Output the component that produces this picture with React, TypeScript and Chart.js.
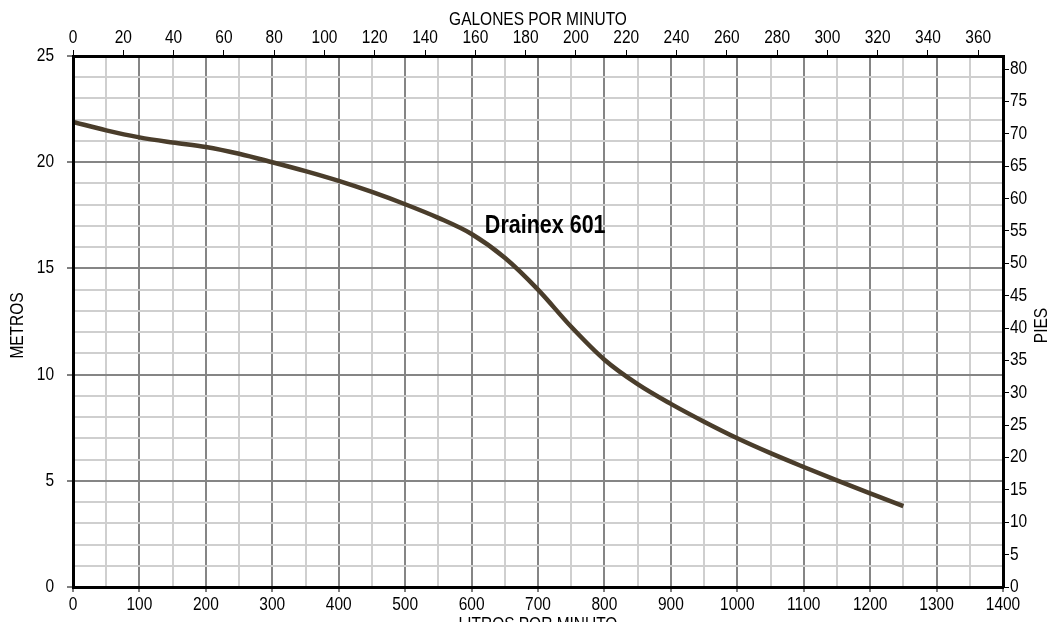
import React, { useEffect, useRef } from "react";
import { Chart, registerables } from "chart.js";

Chart.register(...registerables);

// Data (litres per minute vs metres of head)
const FLOW_LPM = [0, 50, 100, 150, 200, 250, 300, 350, 400, 450, 500, 550, 600, 650, 700, 750, 800, 850, 900, 950, 1000, 1050, 1100, 1150, 1200, 1250];
const HEAD_M = [21.9, 21.5, 21.17, 20.93, 20.72, 20.4, 20.0, 19.58, 19.12, 18.6, 18.02, 17.38, 16.62, 15.5, 14.0, 12.25, 10.7, 9.55, 8.62, 7.78, 7.0, 6.3, 5.65, 5.02, 4.41, 3.81];

const SERIES_NAME = "Drainex 601";
const LABEL_AT_LPM = 620;
const LABEL_AT_M = 16.98;

const LPM_MAX = 1400;
const M_MAX = 25;
const LPM_PER_GPM = 3.78541;
const FT_PER_M = 3.28084;

const TITLE_TOP = "GALONES POR MINUTO";
const TITLE_BOTTOM = "LITROS POR MINUTO";
const TITLE_LEFT = "METROS";
const TITLE_RIGHT = "PIES";

const FONT = "'Liberation Sans', Arial, sans-serif";
const NARROW = 0.86; // horizontal condensing to mimic a narrow sans face
const DARK_GRID = "#858585";
const LIGHT_GRID = "#cfcfcf";
const CURVE = "#4a3d2b";

export default function App() {
  const ref = useRef<HTMLCanvasElement | null>(null);

  useEffect(() => {
    if (!ref.current) return;

    const narrowText = {
      id: "narrowText",
      beforeDraw(chart: any) {
        const ctx = chart.ctx;
        if (ctx.__narrowPatched) return;
        const orig = ctx.fillText.bind(ctx);
        ctx.fillText = (text: string, x: number, y: number, maxWidth?: number) => {
          ctx.save();
          ctx.translate(x, y);
          ctx.scale(NARROW, 1);
          if (maxWidth !== undefined) orig(text, 0, 0, maxWidth / NARROW);
          else orig(text, 0, 0);
          ctx.restore();
        };
        ctx.__narrowPatched = true;
      },
    };

    const labelsPlugin = {
      id: "extraText",
      afterDraw(chart: any) {
        const { ctx, chartArea, scales } = chart;
        ctx.save();
        ctx.fillStyle = "#000";
        const cx = (chartArea.left + chartArea.right) / 2;
        const cy = (chartArea.top + chartArea.bottom) / 2;
        ctx.font = `18px ${FONT}`;
        ctx.textAlign = "center";
        ctx.textBaseline = "middle";
        ctx.fillText(TITLE_TOP, cx, 20);
        ctx.fillText(TITLE_BOTTOM, cx, 625);
        ctx.save();
        ctx.translate(18, cy + 4);
        ctx.rotate(-Math.PI / 2);
        ctx.fillText(TITLE_LEFT, 0, 0);
        ctx.restore();
        ctx.save();
        ctx.translate(1042, cy + 4);
        ctx.rotate(-Math.PI / 2);
        ctx.fillText(TITLE_RIGHT, 0, 0);
        ctx.restore();
        ctx.font = `bold 25px ${FONT}`;
        ctx.textAlign = "left";
        ctx.fillText(SERIES_NAME, scales.x.getPixelForValue(LABEL_AT_LPM), scales.y.getPixelForValue(LABEL_AT_M));
        ctx.restore();
      },
    };

    const tickFont = { family: FONT, size: 18 };

    const chart = new Chart(ref.current, {
      type: "line",
      data: {
        datasets: [
          {
            label: SERIES_NAME,
            data: FLOW_LPM.map((x, i) => ({ x, y: HEAD_M[i] })),
            borderColor: CURVE,
            borderWidth: 4.5,
            pointRadius: 0,
            cubicInterpolationMode: "monotone",
            fill: false,
            xAxisID: "x",
            yAxisID: "y",
          },
        ],
      },
      plugins: [narrowText, labelsPlugin],
      options: {
        animation: false,
        responsive: true,
        maintainAspectRatio: false,
        layout: { padding: 0 },
        plugins: { legend: { display: false }, tooltip: { enabled: false } },
        scales: {
          x: {
            type: "linear",
            position: "bottom",
            min: 0,
            max: LPM_MAX,
            afterFit: (s: any) => { s.height = 35; },
            ticks: {
              stepSize: 50,
              autoSkip: false,
              maxRotation: 0,
              padding: 2,
              color: "#000",
              font: tickFont,
              callback: (v: any) => (Number(v) % 100 === 0 ? String(v) : ""),
            },
            grid: {
              color: (c: any) => (c.tick && c.tick.value % 100 === 0 ? DARK_GRID : LIGHT_GRID),
              lineWidth: 2,
              tickColor: (c: any) => (c.tick && c.tick.value % 100 === 0 ? "#000" : "rgba(0,0,0,0)"),
              tickLength: 5,
              tickWidth: 1,
            },
            border: { display: true, color: "#000", width: 3, z: 1 },
          },
          x2: {
            type: "linear",
            position: "top",
            min: 0,
            max: LPM_MAX / LPM_PER_GPM,
            afterFit: (s: any) => { s.height = 56; },
            ticks: {
              stepSize: 20,
              includeBounds: false,
              autoSkip: false,
              maxRotation: 0,
              padding: 1,
              color: "#000",
              font: tickFont,
            },
            grid: { drawOnChartArea: false, tickColor: "#000", tickLength: 6, tickWidth: 1 },
            border: { display: true, color: "#000", width: 3, z: 1 },
          },
          y: {
            type: "linear",
            position: "left",
            min: 0,
            max: M_MAX,
            afterFit: (s: any) => { s.width = 73; },
            ticks: {
              stepSize: 1,
              autoSkip: false,
              padding: 13,
              color: "#000",
              font: tickFont,
              callback: (v: any) => (Number(v) % 5 === 0 ? String(v) : ""),
            },
            grid: {
              color: (c: any) => (c.tick && c.tick.value % 5 === 0 ? DARK_GRID : LIGHT_GRID),
              lineWidth: 2,
              tickColor: (c: any) => (c.tick && c.tick.value % 5 === 0 ? "#000" : "rgba(0,0,0,0)"),
              tickLength: 6,
              tickWidth: 1,
            },
            border: { display: true, color: "#000", width: 3, z: 1 },
          },
          y2: {
            type: "linear",
            position: "right",
            min: 0,
            max: M_MAX * FT_PER_M,
            afterFit: (s: any) => { s.width = 53; },
            ticks: {
              stepSize: 5,
              includeBounds: false,
              autoSkip: false,
              padding: 1,
              color: "#000",
              font: tickFont,
            },
            grid: { drawOnChartArea: false, tickColor: "#000", tickLength: 6, tickWidth: 1 },
            border: { display: true, color: "#000", width: 3, z: 1 },
          },
        },
      },
    });

    return () => chart.destroy();
  }, []);

  return (
    <div style={{ position: "absolute", left: 0, top: 0, width: 1056, height: 622, background: "#fff" }}>
      <canvas ref={ref} />
    </div>
  );
}
